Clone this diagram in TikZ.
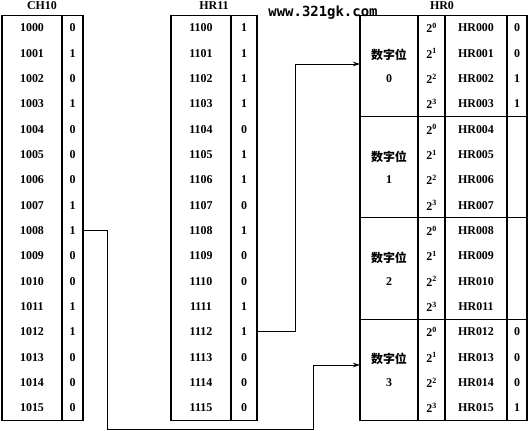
\documentclass[tikz,border=0pt]{standalone}
\usepackage{fontspec}
\setmainfont{Liberation Serif}
\newfontfamily\cjk{Noto Sans CJK SC}
\newfontfamily\wmfont{DejaVu Sans Mono}
\usetikzlibrary{arrows.meta}
\begin{document}
\begin{tikzpicture}[x=1bp,y=-1bp,
  cell/.style={inner sep=0pt, minimum height=25.33bp, font=\fontsize{12}{14}\selectfont\bfseries},
  head/.style={inner sep=0pt, font=\fontsize{12}{14}\selectfont\bfseries},
  grp/.style={inner sep=0pt, align=center, font=\fontsize{12}{23}\selectfont\bfseries},
  frame/.style={line width=1.1bp},
  conn/.style={line width=1bp},
  arr/.style={conn,-{Stealth[length=7bp,width=4.5bp]}}]
\useasboundingbox (0,0) rectangle (530,430);
\fill[white] (0,0) rectangle (530,430);

% headers
\node[head] (hch) at (42,6) {CH10};
\node[head] (hhr) at (214,6) {HR11};
\node[head] (hh0) at (442,6) {HR0};

% frames
\draw[frame] (2,15.3) rectangle (83,420.6);
\draw[frame] (62,15.3) -- (62,420.6);
\draw[frame] (171,15.3) rectangle (257,420.6);
\draw[frame] (231,15.3) -- (231,420.6);
\draw[frame] (360,15.3) rectangle (527,420.6);
\foreach \xx in {418,445,507} \draw[frame] (\xx,15.3) -- (\xx,420.6);
\foreach \yy in {116.6,217.9,319.3} \draw[frame] (360,\yy) -- (527,\yy);

% CH10
\foreach \i/\a/\v in {0/1000/0,1/1001/1,2/1002/0,3/1003/1,4/1004/0,5/1005/0,6/1006/0,7/1007/1,
  8/1008/1,9/1009/0,10/1010/0,11/1011/1,12/1012/1,13/1013/0,14/1014/0,15/1015/0}{
  \node[cell,minimum width=60bp] (cha\i) at (32,{15.3+(\i+0.5)*25.33}) {\a};
  \node[cell,minimum width=21bp] (chv\i) at (72.5,{15.3+(\i+0.5)*25.33}) {\v};
}
% HR11
\foreach \i/\a/\v in {0/1100/1,1/1101/1,2/1102/1,3/1103/1,4/1104/0,5/1105/1,6/1106/1,7/1107/0,
  8/1108/1,9/1109/0,10/1110/0,11/1111/1,12/1112/1,13/1113/0,14/1114/0,15/1115/0}{
  \node[cell,minimum width=60bp] (hra\i) at (201,{15.3+(\i+0.5)*25.33}) {\a};
  \node[cell,minimum width=26bp] (hrv\i) at (244,{15.3+(\i+0.5)*25.33}) {\v};
}
% HR0
\foreach \i/\n/\v in {0/HR000/0,1/HR001/0,2/HR002/1,3/HR003/1,4/HR004/{},5/HR005/{},6/HR006/{},7/HR007/{},
  8/HR008/{},9/HR009/{},10/HR010/{},11/HR011/{},12/HR012/0,13/HR013/0,14/HR014/0,15/HR015/1}{
  \pgfmathtruncatemacro\k{mod(\i,4)}
  \node[cell,minimum width=27bp] (hb\i) at (431.5,{15.3+(\i+0.5)*25.33}) {2\textsuperscript{\k}};
  \node[cell,minimum width=62bp] (hn\i) at (476,{15.3+(\i+0.5)*25.33}) {\n};
  \node[cell,minimum width=20bp] (hv\i) at (517,{15.3+(\i+0.5)*25.33}) {\v};
}
\foreach \j in {0,1,2,3}
  \node[grp] (g\j) at (389,{15.3+(4*\j+2)*25.33}) {{\cjk 数字位}\\\j};

% connectors
\coordinate (k1) at (107,429);
\coordinate (k2) at (313,365);
\coordinate (t2) at (360,365);
\draw[arr] (chv8.east) -| (k1) -| (k2) -- (t2);
\coordinate (k3) at (295,64);
\coordinate (t1) at (360,64);
\draw[arr] (hrv12.east) -| (k3) -- (t1);

% watermark
\node[inner sep=0pt, font=\wmfont\bfseries\fontsize{14}{16}\selectfont] (wm) at (323,13) {www.321gk.com};
\end{tikzpicture}
\end{document}
